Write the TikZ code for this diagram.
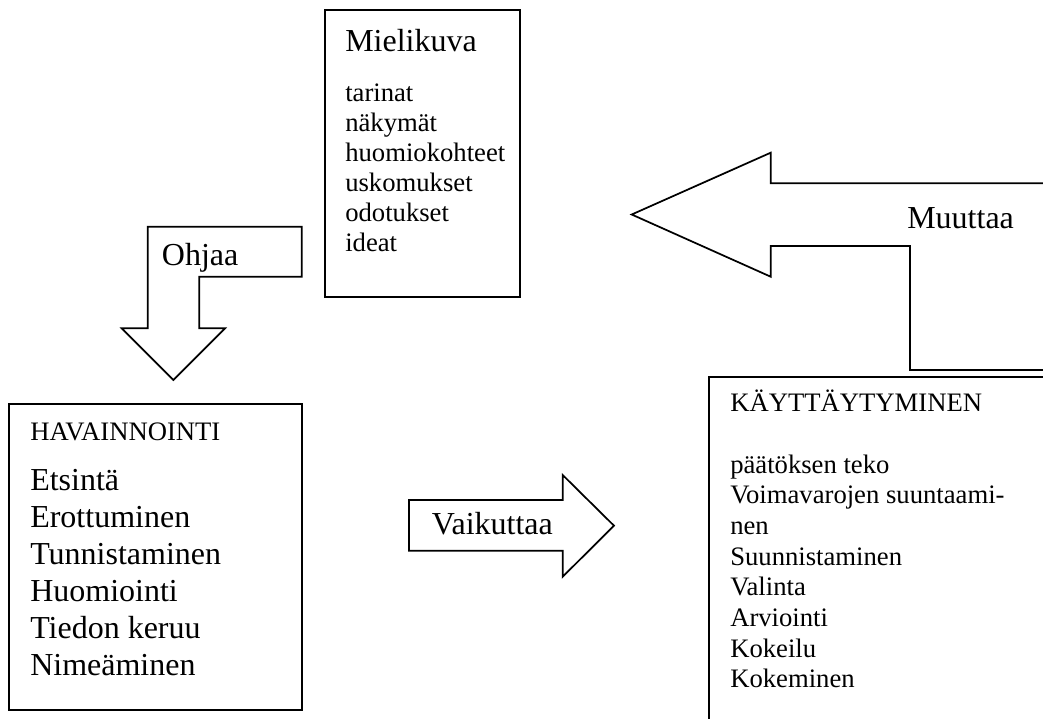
\documentclass[tikz,border=0pt]{standalone}
\usepackage{fontspec}
\setmainfont{Liberation Serif}
\newcommand{\toplines}[1]{\parbox[t]{300pt}{\raggedright #1}}
\begin{document}
\begin{tikzpicture}[x=0.75pt,y=-0.75pt,
  outline/.style={draw=black, line width=1.3pt, line join=miter},
  body/.style={anchor=base west, inner sep=0pt, font=\fontsize{20}{22.5}\selectfont},
  big/.style={anchor=base west, inner sep=0pt, font=\fontsize{24}{27.75}\selectfont}]
\useasboundingbox (0,0) rectangle (1043,718);
\clip (0,0) rectangle (1043,718);

% Mielikuva box
\draw[outline] (325,10) rectangle (520,297);
\node[big] (mieli) at (345,51.7) {Mielikuva};
\node[body] (mielilist) at (345,101.7) {\toplines{tarinat\\näkymät\\huomiokohteet\\uskomukset\\odotukset\\ideat}};

% Havainnointi box
\draw[outline] (9,404) rectangle (301.7,710);
\node[body] (hav) at (30,440) {HAVAINNOINTI};
\node[big] (havlist) at (30,490) {\toplines{Etsintä\\Erottuminen\\Tunnistaminen\\Huomiointi\\Tiedon keruu\\Nimeäminen}};

% Kayttaytyminen box (cut off at the edges)
\draw[outline] (1060,377) -- (709,377) -- (709,730);
\node[body] (kay) at (730,411.7) {KÄYTTÄYTYMINEN};
\node[body, font=\fontsize{20}{23}\selectfont] (kaylist) at (730,473) {\toplines{päätöksen teko\\Voimavarojen suuntaami-\\nen\\Suunnistaminen\\Valinta\\Arviointi\\Kokeilu\\Kokeminen}};

% Ohjaa bent arrow
\draw[outline] (147.7,226.7) -- (301.7,226.7) -- (301.7,276.7) -- (199.3,276.7)
  -- (199.3,328.3) -- (225,328.3) -- (173.3,380) -- (121.7,328.3) -- (147.7,328.3) -- cycle;
\node[big] (ohjaa) at (161.7,265) {Ohjaa};

% Muuttaa bent arrow (cut off at the right edge)
\draw[outline] (1060,183.3) -- (770.7,183.3) -- (770.7,152.7) -- (631.7,214.5)
  -- (770.7,276.7) -- (770.7,246) -- (910,246) -- (910,370) -- (1060,370);
\node[big] (muuttaa) at (907,228) {Muuttaa};

% Vaikuttaa arrow
\draw[outline] (409,500) -- (562.7,500) -- (562.7,475) -- (614,525.7)
  -- (562.7,576.7) -- (562.7,550.7) -- (409,550.7) -- cycle;
\node[big] (vaik) at (431.7,534) {Vaikuttaa};
\end{tikzpicture}
\end{document}
